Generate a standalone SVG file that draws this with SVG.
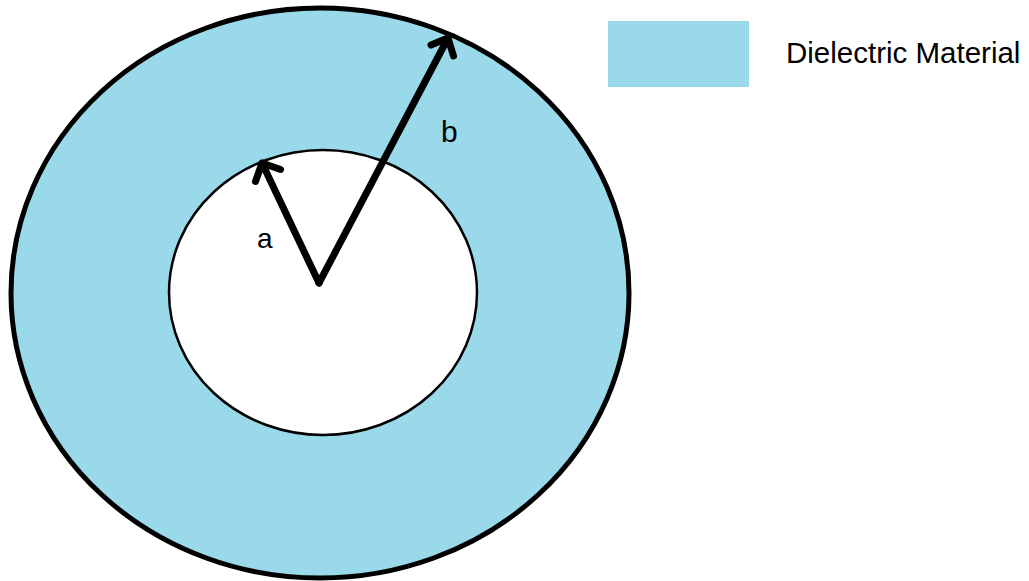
<svg xmlns="http://www.w3.org/2000/svg" width="1029" height="581" viewBox="0 0 1029 581">
<style>
.lbl{font-family:"Liberation Sans",Arial,sans-serif;fill:#000}
.arrow{fill:none;stroke:#000;stroke-width:7;stroke-linecap:round;stroke-linejoin:round}
</style>
<rect width="1029" height="581" fill="#fff"/>
<g id="outer">
<ellipse cx="320" cy="293" rx="309" ry="285" fill="#99D9EA" stroke="#000" stroke-width="5"/>
</g>
<g id="inner">
<ellipse cx="323" cy="292.5" rx="154" ry="142.5" fill="#fff" stroke="#000" stroke-width="2.5"/>
</g>
<g id="connectors">
<path class="arrow" d="M319,283 L262,163 M255.5,181.5 L262,163 L280.5,169.5"/>
<path class="arrow" d="M319,283 L448,38 M431,45 L448,38 L453.5,56"/>
</g>
<g id="label-a"><text class="lbl" x="257" y="248" font-size="28">a</text></g>
<g id="label-b"><text class="lbl" x="441" y="142" font-size="30">b</text></g>
<g id="legend">
<rect x="608" y="21" width="141" height="66" fill="#99D9EA"/>
<text class="lbl" x="786" y="63" font-size="29.5">Dielectric Material</text>
</g>
</svg>
